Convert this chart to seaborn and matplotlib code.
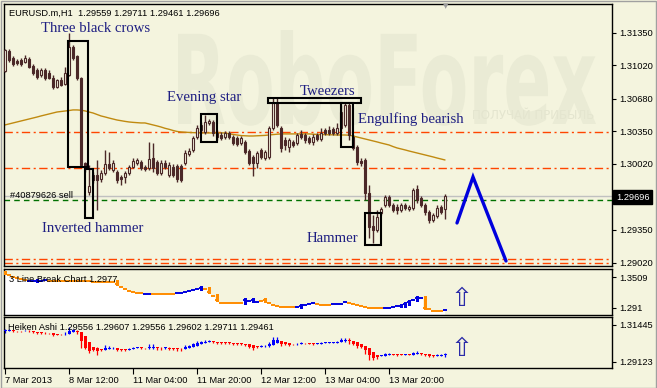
import numpy as np
import matplotlib
matplotlib.use("Agg")
import matplotlib.pyplot as plt
import seaborn as sns
from matplotlib.patches import Rectangle, PathPatch
from matplotlib.textpath import TextPath
from matplotlib.font_manager import FontProperties
from matplotlib.transforms import Affine2D

sns.set_theme(style="white")
plt.rcParams['font.family'] = ['Liberation Sans', 'DejaVu Sans']

# ---------------- data (EURUSD H1) ----------------
opens = [1.30961, 1.31163, 1.31092, 1.31062, 1.31072, 1.31052, 1.31082, 1.31011, 1.30971, 1.30920,
         1.30971, 1.30941, 1.30890, 1.30799, 1.30870, 1.30829, 1.30920, 1.31204, 1.31113, 1.30890,
         1.30029, 1.29735, 1.29907, 1.29907, 1.29867, 1.29928, 1.30019, 1.29958, 1.29938, 1.29887,
         1.29887, 1.29928, 1.29988, 1.30029, 1.30039, 1.29988, 1.29978, 1.30079, 1.30039, 1.29928,
         1.30029, 1.29907, 1.29988, 1.29998, 1.29998, 1.30029, 1.30120, 1.30161, 1.30292, 1.30363,
         1.30343, 1.30434, 1.30444, 1.30333, 1.30312, 1.30292, 1.30333, 1.30292, 1.30282, 1.30231,
         1.30242, 1.30150, 1.30090, 1.30029, 1.30161, 1.30079, 1.30090, 1.30383, 1.30637, 1.30383,
         1.30262, 1.30191, 1.30242, 1.30231, 1.30323, 1.30312, 1.30282, 1.30242, 1.30312, 1.30272,
         1.30363, 1.30363, 1.30373, 1.30333, 1.30383, 1.30414, 1.30616, 1.30292, 1.30191, 1.30049,
         1.30059, 1.29725, 1.29391, 1.29350, 1.29522, 1.29603, 1.29684, 1.29603, 1.29583, 1.29553,
         1.29603, 1.29563, 1.29573, 1.29765, 1.29674, 1.29603, 1.29532, 1.29451, 1.29492, 1.29583,
         1.29559]
highs = [1.31184, 1.31184, 1.31113, 1.31082, 1.31092, 1.31123, 1.31103, 1.31032, 1.30991, 1.30991,
         1.30991, 1.30971, 1.30920, 1.30880, 1.30900, 1.31001, 1.31346, 1.31224, 1.31123, 1.30900,
         1.30039, 1.30009, 1.29938, 1.30059, 1.29958, 1.30161, 1.30140, 1.30059, 1.29958, 1.29907,
         1.29948, 1.30009, 1.30079, 1.30079, 1.30059, 1.30009, 1.30242, 1.30231, 1.30059, 1.30059,
         1.30059, 1.30039, 1.30019, 1.30019, 1.30019, 1.30161, 1.30181, 1.30302, 1.30414, 1.30444,
         1.30515, 1.30475, 1.30464, 1.30363, 1.30343, 1.30353, 1.30353, 1.30312, 1.30302, 1.30302,
         1.30262, 1.30171, 1.30110, 1.30150, 1.30181, 1.30161, 1.30404, 1.30687, 1.30687, 1.30404,
         1.30292, 1.30282, 1.30262, 1.30333, 1.30363, 1.30333, 1.30302, 1.30323, 1.30333, 1.30383,
         1.30383, 1.30404, 1.30393, 1.30434, 1.30616, 1.30647, 1.30637, 1.30312, 1.30211, 1.30079,
         1.30079, 1.29806, 1.29502, 1.29553, 1.29583, 1.29705, 1.29705, 1.29624, 1.29614, 1.29624,
         1.29624, 1.29603, 1.29776, 1.29806, 1.29695, 1.29624, 1.29553, 1.29522, 1.29603, 1.29603,
         1.29711]
lows = [1.30951, 1.31052, 1.31011, 1.31022, 1.31011, 1.31042, 1.30991, 1.30920, 1.30880, 1.30900,
        1.30870, 1.30880, 1.30778, 1.30789, 1.30809, 1.30819, 1.30910, 1.31072, 1.30870, 1.29988,
        1.29938, 1.29705, 1.29826, 1.29553, 1.29836, 1.29907, 1.29958, 1.29938, 1.29826, 1.29806,
        1.29826, 1.29907, 1.29978, 1.30009, 1.29958, 1.29948, 1.29958, 1.29938, 1.29907, 1.29907,
        1.29968, 1.29887, 1.29887, 1.29836, 1.29836, 1.30009, 1.30100, 1.30140, 1.30272, 1.30333,
        1.30323, 1.30414, 1.30302, 1.30262, 1.30262, 1.30272, 1.30272, 1.30211, 1.30201, 1.30211,
        1.30120, 1.30009, 1.29897, 1.29978, 1.30069, 1.30059, 1.30069, 1.30363, 1.30393, 1.30140,
        1.30161, 1.30140, 1.30191, 1.30211, 1.30272, 1.30231, 1.30221, 1.30211, 1.30252, 1.30252,
        1.30312, 1.30312, 1.30312, 1.30312, 1.30363, 1.30393, 1.30262, 1.30161, 1.30009, 1.29998,
        1.29654, 1.29269, 1.29218, 1.29330, 1.29502, 1.29583, 1.29583, 1.29532, 1.29512, 1.29532,
        1.29553, 1.29543, 1.29553, 1.29624, 1.29583, 1.29502, 1.29421, 1.29431, 1.29472, 1.29512,
        1.29461]
closes = [1.31174, 1.31072, 1.31032, 1.31042, 1.31032, 1.31092, 1.31001, 1.30941, 1.30900, 1.30971,
          1.30890, 1.30890, 1.30799, 1.30870, 1.30819, 1.30941, 1.31204, 1.31092, 1.30890, 1.30009,
          1.29978, 1.29796, 1.29857, 1.29857, 1.29928, 1.30019, 1.29978, 1.30029, 1.29857, 1.29867,
          1.29928, 1.29988, 1.30049, 1.30059, 1.29978, 1.29968, 1.30069, 1.29978, 1.29928, 1.30029,
          1.29988, 1.30009, 1.29907, 1.29867, 1.29857, 1.30130, 1.30150, 1.30282, 1.30383, 1.30414,
          1.30444, 1.30454, 1.30333, 1.30292, 1.30282, 1.30333, 1.30292, 1.30231, 1.30221, 1.30282,
          1.30140, 1.30029, 1.30029, 1.30130, 1.30090, 1.30140, 1.30383, 1.30637, 1.30414, 1.30181,
          1.30211, 1.30262, 1.30211, 1.30312, 1.30292, 1.30262, 1.30242, 1.30292, 1.30272, 1.30333,
          1.30333, 1.30333, 1.30333, 1.30383, 1.30545, 1.30616, 1.30312, 1.30181, 1.30039, 1.30029,
          1.29725, 1.29381, 1.29350, 1.29482, 1.29563, 1.29684, 1.29603, 1.29553, 1.29553, 1.29603,
          1.29573, 1.29583, 1.29755, 1.29654, 1.29603, 1.29532, 1.29451, 1.29502, 1.29573, 1.29532,
          1.29696]
ma_values = [1.30414, 1.30424, 1.30434, 1.30444, 1.30454, 1.30464, 1.30474, 1.30484, 1.30494, 1.30505,
             1.30515, 1.30525, 1.30535, 1.30545, 1.30550, 1.30555, 1.30560, 1.30566, 1.30566, 1.30563,
             1.30556, 1.30545, 1.30535, 1.30520, 1.30505, 1.30495, 1.30484, 1.30474, 1.30464, 1.30457,
             1.30450, 1.30444, 1.30440, 1.30437, 1.30434, 1.30434, 1.30424, 1.30414, 1.30404, 1.30393,
             1.30380, 1.30370, 1.30358, 1.30348, 1.30343, 1.30340, 1.30338, 1.30336, 1.30335, 1.30333,
             1.30333, 1.30333, 1.30333, 1.30333, 1.30333, 1.30333, 1.30325, 1.30318, 1.30312, 1.30306,
             1.30304, 1.30302, 1.30302, 1.30304, 1.30306, 1.30308, 1.30312, 1.30316, 1.30320, 1.30323,
             1.30323, 1.30323, 1.30323, 1.30323, 1.30323, 1.30323, 1.30323, 1.30320, 1.30318, 1.30316,
             1.30316, 1.30314, 1.30314, 1.30312, 1.30312, 1.30312, 1.30310, 1.30302, 1.30292, 1.30282,
             1.30272, 1.30262, 1.30252, 1.30242, 1.30231, 1.30221, 1.30211, 1.30195, 1.30181, 1.30171,
             1.30161, 1.30150, 1.30140, 1.30130, 1.30120, 1.30110, 1.30100, 1.30090, 1.30079, 1.30069,
             1.30059]

sr_levels = [1.30343, 1.29978, 1.29056, 1.29016]
sell_level = 1.29654
bid_price = 1.29696
price_ticks = [1.31350, 1.31020, 1.30680, 1.30350, 1.30020, 1.29350, 1.29020]
time_tick_bars = [0, 16, 32, 48, 64, 80, 96]
time_tick_labels = ['7 Mar 2013', '8 Mar 12:00', '11 Mar 04:00', '11 Mar 20:00',
                    '12 Mar 12:00', '13 Mar 04:00', '13 Mar 20:00']

forecast_bars = [113, 117, 125.25]
forecast_prices = [1.29421, 1.29887, 1.29036]

pattern_names = ['Three black crows', 'Inverted hammer', 'Evening star', 'Tweezers',
                 'Engulfing bearish', 'Hammer']
box_bar_from = [15.75, 20.0, 49.0, 65.75, 84.0, 90.0]
box_bar_to = [20.75, 22.0, 53.0, 89.0, 87.0, 94.0]
box_price_low = [1.29988, 1.29472, 1.30242, 1.30637, 1.30191, 1.29198]
box_price_high = [1.31265, 1.29968, 1.30525, 1.30687, 1.30637, 1.29522]

# 3 Line Break indicator
lb_values = [1.35863, 1.35476, 1.35090, 1.34897, 1.34704, 1.34510, 1.34317, 1.34317, 1.34317, 1.34317,
             1.34510, 1.34317, 1.34317, 1.34317, 1.34317, 1.34317, 1.34317, 1.34317, 1.34317, 1.34317,
             1.34317, 1.34317, 1.34124, 1.34124, 1.34124, 1.34124, 1.34124, 1.34124, 1.33737, 1.33158,
             1.32771, 1.32385, 1.32192, 1.31998, 1.31998, 1.31805, 1.31805, 1.31805, 1.31805, 1.31805,
             1.31805, 1.31805, 1.31805, 1.31998, 1.31998, 1.32192, 1.32385, 1.32578, 1.32771, 1.32964,
             1.32771, 1.32192, 1.31419, 1.30646, 1.30066, 1.30066, 1.30066, 1.30066, 1.30066, 1.30066,
             1.30646, 1.30452, 1.30646, 1.30259, 1.30452, 1.30646, 1.30066, 1.29680, 1.29486, 1.29293,
             1.29293, 1.29293, 1.29293, 1.29293, 1.29486, 1.29680, 1.29873, 1.30066, 1.29873, 1.29680,
             1.29680, 1.29680, 1.29873, 1.29873, 1.29873, 1.30259, 1.30066, 1.29873, 1.29680, 1.29486,
             1.29293, 1.29100, 1.29100, 1.29100, 1.29100, 1.29100, 1.29100, 1.29293, 1.29486, 1.29486,
             1.29873, 1.30259, 1.30646, 1.31032, 1.31032, 1.29100, 1.28907, 1.28520, 1.28520, 1.28520,
             1.28714]
lb_up = [0, 0, 0, 0, 0, 0, 1, 1, 1, 1,
         1, 0, 0, 0, 0, 0, 0, 0, 0, 0,
         0, 0, 0, 0, 0, 0, 0, 0, 0, 0,
         0, 0, 0, 0, 0, 1, 1, 0, 0, 0,
         0, 0, 0, 1, 1, 1, 1, 1, 1, 1,
         0, 0, 0, 0, 0, 0, 0, 0, 0, 0,
         1, 1, 1, 1, 0, 0, 0, 0, 0, 0,
         0, 0, 0, 1, 1, 1, 1, 1, 0, 0,
         0, 0, 1, 1, 1, 1, 0, 0, 0, 0,
         0, 0, 0, 0, 0, 1, 1, 1, 1, 1,
         1, 1, 1, 1, 1, 0, 0, 0, 0, 0,
         1]
lb_blocks = [0, 8, 28, 49, 51, 53, 60, 62, 65, 74, 99, 100, 101, 103, 105]
lb_ticks = [1.3509, 1.291]
lb_tick_labels = ['1.3509', '1.291']
ha_ticks = [1.31445, 1.29123]
ha_tick_labels = ['1.31445', '1.29123']

# ---------------- style ----------------
BG = '#F4F4DE'
CANDLE = '#4B2828'
MA_COLOR = '#C08A10'
SR_COLOR = '#FF4500'
ANN = '#1F1F82'
W, H = 657, 388

fig = plt.figure(figsize=(W / 100, H / 100), dpi=100)
fig.patch.set_facecolor(BG)


def px_axes(x0, top, x1, bottom):
    return fig.add_axes([x0 / W, 1 - bottom / H, (x1 - x0) / W, (bottom - top) / H])


def ftext(px, py, s, **kw):
    return fig.text(px / W, 1 - py / H, s, **kw)


ax = px_axes(4, 4, 612, 266)
ax2 = px_axes(4, 269, 612, 315)
ax3 = px_axes(4, 317, 612, 368)
XLIM = (-0.25, 151.75)

for a in (ax, ax2, ax3):
    a.set_facecolor(BG)
    for sp in a.spines.values():
        sp.set_color('black')
        sp.set_linewidth(1.0)
    a.set_xlim(*XLIM)
    a.grid(False)

idx = np.arange(len(closes))
o = np.array(opens); h = np.array(highs); l = np.array(lows); c = np.array(closes)

# watermark
tp = TextPath((0, 0), 'RoboForex', size=100,
              prop=FontProperties(family='DejaVu Sans', weight='bold'))
bb = tp.get_extents()
sx = (596 - 178) / bb.width
sy = ((H - 30) - (H - 124)) / bb.ymax
wm_tr = Affine2D().translate(-bb.xmin, 0).scale(sx, sy).translate(178, H - 124)
wm = PathPatch(tp, transform=wm_tr, fc='#EAEBD5', ec='none', zorder=0.2)
ax.add_artist(wm)
ax.text(0.77, 0.575, 'ПОЛУЧАЙ ПРИБЫЛЬ', transform=ax.transAxes, fontsize=8.5,
        color='#E4E5CF', family='DejaVu Sans', ha='left', va='center', zorder=0.3)

# horizontal levels
for lv in sr_levels:
    ax.axhline(lv, color=SR_COLOR, lw=1.0, dashes=(6, 2.5, 1.5, 2.5), zorder=1)
ax.axhline(bid_price, color='#C0C0C0', lw=1.0, zorder=1)
ax.axhline(sell_level, color='#007000', lw=1.0, dashes=(4, 3), zorder=1)

# moving average
sns.lineplot(x=idx, y=ma_values, ax=ax, color=MA_COLOR, linewidth=1.0, legend=False, zorder=2)

# candles
up = c >= o
ax.vlines(idx, l, h, color=CANDLE, lw=1.0, zorder=3)
body_lo = np.minimum(o, c)
body_h = np.maximum(np.abs(c - o), 0.00004)
ax.bar(idx, body_h, bottom=body_lo, width=0.55,
       color=[BG if u else CANDLE for u in up], edgecolor=CANDLE, linewidth=0.8, zorder=4)

# pattern boxes
for x0, x1, p0, p1 in zip(box_bar_from, box_bar_to, box_price_low, box_price_high):
    ax.add_patch(Rectangle((x0, p0), x1 - x0, p1 - p0, fill=False, ec='black', lw=1.5, zorder=6))

# forecast zigzag
ax.plot(forecast_bars, forecast_prices, color='#0000DD', lw=2.4, solid_capstyle='round',
        solid_joinstyle='miter', zorder=6)

ax.set_ylim(1.28985, 1.31639)
ax.set_xlim(*XLIM)
ax.yaxis.tick_right()
ax.set_yticks(price_ticks)
ax.set_yticklabels([f'{v:.5f}' for v in price_ticks])
ax.set_xticks([])
ax.tick_params(axis='y', direction='out', length=3, width=0.8, pad=2, labelsize=6.7,
               colors='black', right=True, left=False)
ax.set_xlabel(''); ax.set_ylabel('')

# ---- 3 Line Break panel ----
lbv = np.array(lb_values)
lb_col = ['#0000E0' if u else '#FF8C00' for u in lb_up]
LB_LIM = (1.27747, 1.36636)
ax2.fill_between(idx, lbv, LB_LIM[0], color='white', step='mid', zorder=1, lw=0)
ax2.hlines(lbv, idx - 0.4, idx + 0.4, colors=lb_col, lw=1.4, zorder=2)
blk_lo, blk_h, blk_c = [], [], []
for b in lb_blocks:
    prev = lbv[b - 1] if b > 0 else lbv[b]
    lo = min(prev, lbv[b]); hi = max(prev, lbv[b])
    pad = 0.0045
    blk_lo.append(lo - pad); blk_h.append(hi - lo + 2 * pad); blk_c.append(lb_col[b])
ax2.bar(lb_blocks, blk_h, bottom=blk_lo, width=0.75, color=blk_c, lw=0, zorder=3)
ax2.set_ylim(*LB_LIM)
ax2.yaxis.tick_right()
ax2.set_yticks(lb_ticks)
ax2.set_yticklabels(lb_tick_labels)
ax2.set_xticks([])
ax2.tick_params(axis='y', direction='out', length=3, width=0.8, pad=2, labelsize=6.7,
                colors='black', right=True, left=False)

# ---- Heiken Ashi panel ----
ha_close = (o + h + l + c) / 4
ha_open = np.empty_like(ha_close)
ha_open[0] = (o[0] + c[0]) / 2
for i in range(1, len(ha_close)):
    ha_open[i] = (ha_open[i - 1] + ha_close[i - 1]) / 2
ha_high = np.maximum.reduce([h, ha_open, ha_close])
ha_low = np.minimum.reduce([l, ha_open, ha_close])
ha_col = ['#0000FF' if cc >= oo else '#FF0000' for oo, cc in zip(ha_open, ha_close)]
ax3.vlines(idx, ha_low, ha_high, colors=ha_col, lw=0.9, zorder=2)
hb_lo = np.minimum(ha_open, ha_close)
hb_h = np.maximum(np.abs(ha_close - ha_open), 0.0004)
ax3.bar(idx, hb_h, bottom=hb_lo, width=0.75, color=ha_col, lw=0, zorder=3)
ax3.set_ylim(1.28746, 1.31947)
ax3.yaxis.tick_right()
ax3.set_yticks(ha_ticks)
ax3.set_yticklabels(ha_tick_labels)
ax3.tick_params(axis='y', direction='out', length=3, width=0.8, pad=2, labelsize=6.7,
                colors='black', right=True, left=False)
ax3.set_xticks(time_tick_bars)
ax3.set_xticklabels(time_tick_labels)
for lbl in ax3.get_xticklabels():
    lbl.set_ha('left')
ax3.tick_params(axis='x', direction='out', length=4, width=0.8, pad=1.5, labelsize=6.7,
                colors='black', bottom=True)

# ---------------- texts ----------------
SMALL = dict(fontsize=6.7, color='black', family=['Liberation Sans', 'DejaVu Sans'])
ftext(9, 13, 'EURUSD.m,H1  1.29559 1.29711 1.29461 1.29696', va='center', ha='left', **SMALL)
ftext(10, 195, '#40879626 sell', va='center', ha='left', **SMALL)
ftext(9, 279, '3 Line Break Chart 1.2977', va='center', ha='left', **SMALL)
ftext(8, 327, 'Heiken Ashi 1.29556 1.29607 1.29556 1.29602 1.29711 1.29461', va='center',
      ha='left', **SMALL)
ftext(616, 197, '1.29696', va='center', ha='left', fontsize=6.7, color='white',
      bbox=dict(boxstyle='square,pad=0.3', fc='black', ec='black'))

ANN_KW = dict(fontsize=10.6, color=ANN, family=['Liberation Serif', 'DejaVu Serif'],
              ha='left', va='baseline')
label_pos = {'Three black crows': (41, 32), 'Evening star': (167, 101.5), 'Tweezers': (300, 95),
             'Engulfing bearish': (358, 122.5), 'Inverted hammer': (42, 231.5), 'Hammer': (307, 242)}
for name in pattern_names:
    px, py = label_pos[name]
    ftext(px, py, name, **ANN_KW)

# hollow up arrows in indicator windows
for py in (299, 349):
    ftext(462, py, '\u21e7', fontsize=19, color='#2A2AA8', ha='center', va='center',
          family='DejaVu Sans')
ftext(446, 6, '\u25bc', fontsize=5, color='#9A9A9A', ha='center', va='center', family='DejaVu Sans')

# outer frame
fig.patches.append(Rectangle((0.5 / W, 0.5 / H), 1 - 1.5 / W, 1 - 1.5 / H, transform=fig.transFigure,
                             fill=False, ec='#A0A0A0', lw=1.0))

fig.savefig('out.png', dpi=100, facecolor=BG)
